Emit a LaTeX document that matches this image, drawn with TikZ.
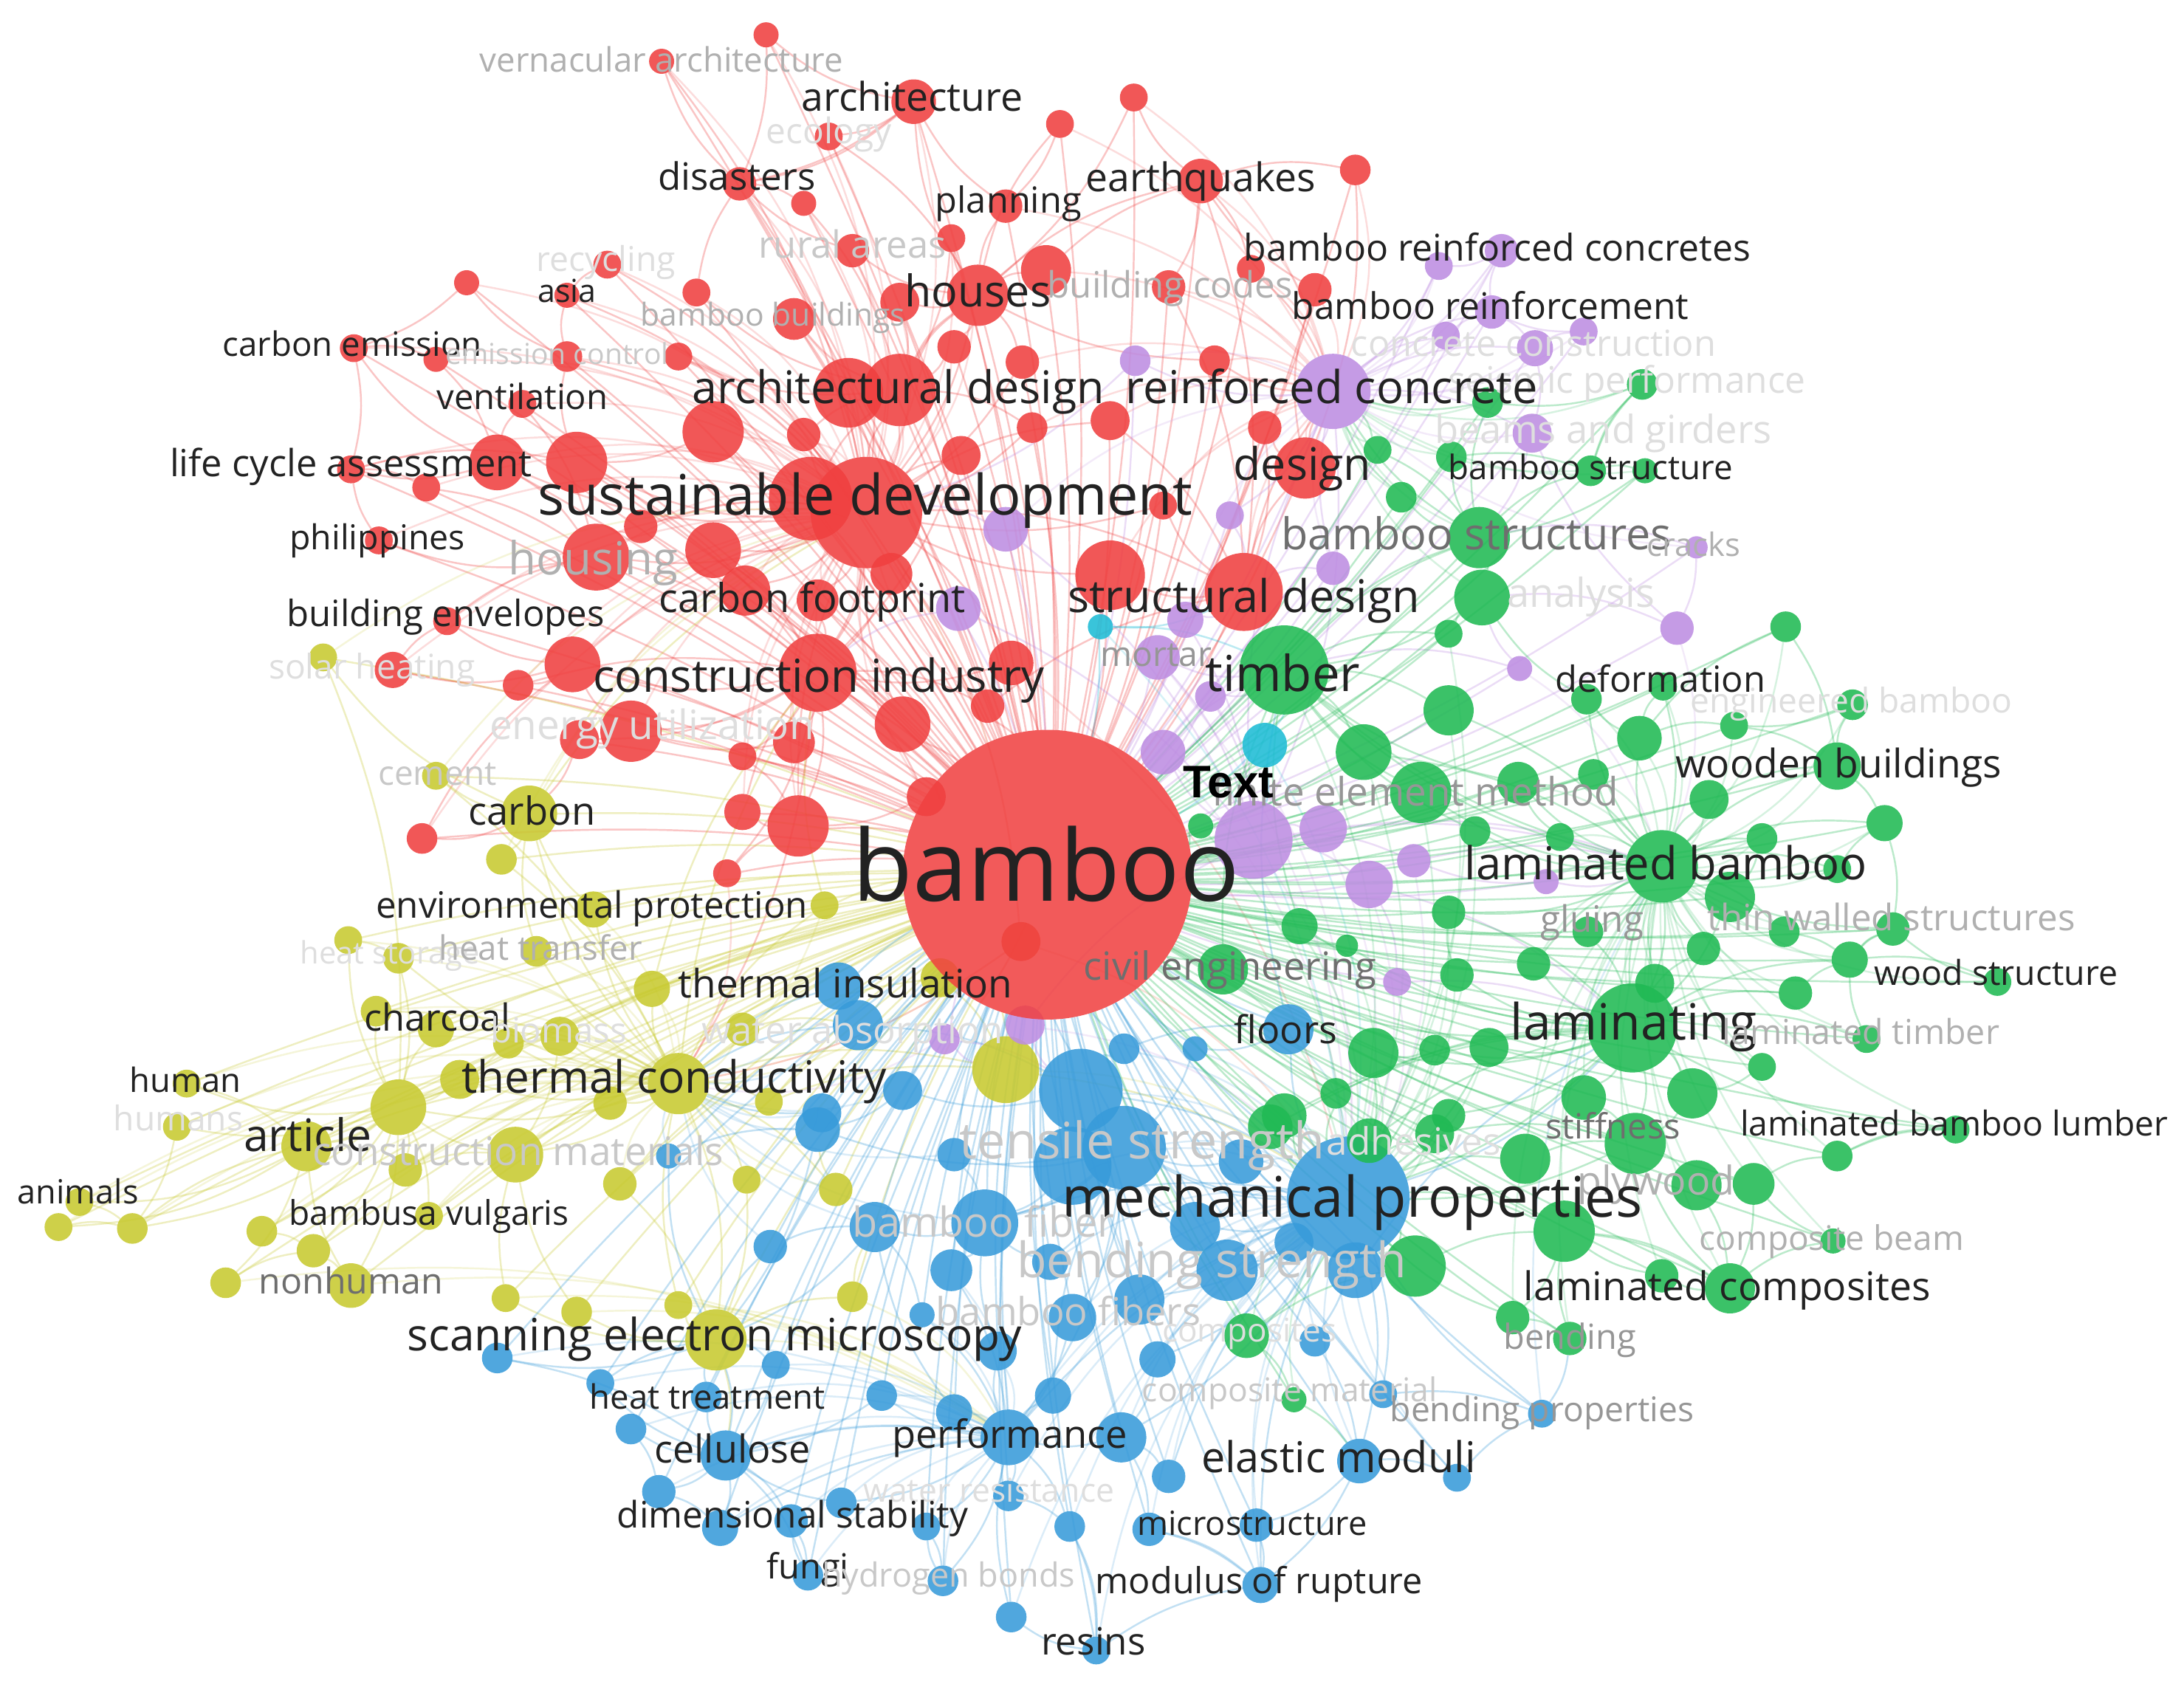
\documentclass[tikz,border=0pt]{standalone}
\usepackage{fontspec}
\setmainfont{Open Sans}
\newfontfamily\arialf{Liberation Sans}
\pgfdeclarelayer{paper}
\pgfdeclarelayer{edgelayer}
\pgfsetlayers{paper,edgelayer,main}
\definecolor{cR}{RGB}{240,64,64}
\definecolor{cO}{RGB}{236,92,48}
\definecolor{cG}{RGB}{32,186,84}
\definecolor{cB}{RGB}{56,155,218}
\definecolor{cY}{RGB}{200,202,48}
\definecolor{cP}{RGB}{190,142,226}
\definecolor{cC}{RGB}{30,188,214}
\definecolor{cK}{RGB}{34,34,34}
\definecolor{gA}{RGB}{110,110,110}
\definecolor{gB}{RGB}{150,150,150}
\definecolor{gC}{RGB}{176,176,176}
\definecolor{gD}{RGB}{200,200,200}
\definecolor{gE}{RGB}{222,222,222}
\makeatletter
\newcommand\vlbl[2]{\setbox0=\hbox{\fontsize{10pt}{12pt}\selectfont #2}\edef\vlblw{\strip@pt\wd0}\pgfmathsetmacro\vlblfs{10*#1/\vlblw}\fontsize{\vlblfs pt}{\vlblfs pt}\selectfont\raisebox{-0.27em}[0pt][0pt]{#2}}
\makeatother
\tikzset{
  ball/.style={circle, inner sep=0pt, outer sep=0pt, fill opacity=0.88},
  edge/.style={line width=1.3pt, draw opacity=0.3},
  lab/.style={inner sep=0pt, outer sep=0pt, anchor=center}
}
\def\nodelist{
arch/656/73/16/cR/hou/r6,
r1/550/25/9/cR/arch/r6,
r2/475/44/9/cR/r6/sd,
r3/595/98/10/cR/arch/hou,
r4/761/89/10/cR/hou/r8,
r5/814/70/10/cR/r9/hou,
r6/531/132/12/cR/arch/sd,
r7/577/146/9/cR/r6/ad,
r8/722/148/12/cR/hou/arch,
r9/862/130/16/cR/hou/sdes,
r10/973/122/11/cR/r9/des,
r11/612/180/12/cR/hou/r6,
r12/683/171/10/cR/hou/ad,
r13/570/229/15/cR/ad/sd,
r14/685/249/12/cR/hou/ad,
r15/734/260/12/cR/hou/sd,
r16/839/206/12/cR/r9/sdes,
r17/898/193/10/cR/r9/rc,
r18/944/208/12/cR/des/r9,
r19/872/259/11/cR/rc/hou,
r20/908/307/12/cR/des/sdes,
r21/797/302/14/cR/sd/sdes,
r22/741/307/11/cR/ad/sd,
r23/690/327/14/cR/sd/ci,
r24/577/312/12/cR/sd/ad,
r25/512/310/22/cR/sd/r38,
r26/436/190/10/cR/r29/sd,
r27/335/203/9/cR/r32/r30,
r28/500/210/10/cR/ad/r6,
r29/407/212/9/cR/r32/sd,
r30/254/250/10/cR/r35/r36,
r31/313/258/9/cR/r30/r35,
r32/407/256/11/cR/r38/sd,
r33/487/256/10/cR/ad/sd,
r34/375/290/10/cR/r35/r40,
r35/357/332/20/cR/sd/r40,
r36/252/337/10/cR/r35/r38,
r37/306/350/10/cR/r36/r40,
r38/414/332/22/cR/sd/ci,
r39/272/388/10/cR/r40/r36,
r40/428/400/24/cR/sd/ci,
r41/460/378/12/cR/r40/sd,
r42/512/395/20/cR/sd/ci,
r43/321/446/10/cR/r46/r40,
r44/282/481/13/cR/r46/r43,
r45/372/492/11/cR/r46/ci,
r46/411/477/20/cR/ci/sd,
r47/453/525/22/cR/ci/r46,
r48/416/531/14/cR/ci/carb,
r49/303/602/11/cR/carb/r46,
r50/522/627/10/cR/ci/r58,
r51/535/424/18/cR/sd/ci,
r52/587/431/15/cR/sd/ci,
r53/648/520/20/cR/ci/sd,
r54/570/533/15/cR/ci/r47,
r55/533/543/10/cR/ci/r58,
r56/709/507/12/cR/ci/sdes,
r57/726/476/16/cR/sd/ci,
r58/573/593/22/cR/ci/sd,
r59/533/583/13/cR/r58/ci,
r60/665/572/14/cR/ci/r58,
r61/733/676/14/cO/sd/tc,
r62/835/363/10/cR/sdes/sd,
r65/640/412/15/cR/sd/ci,
sd2/582/358/30/cR/sd/ad,
sd/622/368/40/cR/ad/ci,
ad1/609/282/25/cR/ad/sd,
ad/646/280/26/cR/sd/hou,
ci/587/483/28/cR/sd/tc,
sdes2/797/413/25/cR/sdes/sd,
sdes/893/425/28/cR/sd/rc,
des/937/336/22/cR/sdes/rc,
hou2/751/194/18/cR/hou/r9,
hou3/646/217/14/cR/hou/ad,
hou/702/212/22/cR/ad/sd,
y1/232/472/10/cY/carb/art,
y2/313/557/10/cY/carb/tc,
carb/380/584/20/cY/tc/sd,
y3/360/617/11/cY/carb/tc,
y4/426/653/13/cY/tc/carb,
y5/250/675/10/cY/art/y6,
y6/286/688/11/cY/tc/art,
y7/385/683/11/cY/tc/carb,
y8/468/710/13/cY/tc/ci,
y9/270/726/11/cY/art/tc,
y10/313/739/13/cY/art/tc,
y11/365/749/11/cY/tc/art,
y12/402/744/14/cY/tc/y17,
tc/487/778/22/cY/art/ci,
y13/438/792/12/cY/tc/y17,
art/286/795/20/cY/tc/y16,
y14/134/778/10/cY/art/y16,
y15/127/809/10/cY/art/y22,
y16/220/823/18/cY/art/tc,
y17/370/829/20/cY/tc/art,
y18/291/840/12/cY/art/y17,
y19/445/850/12/cY/tc/sem,
y20/57/863/10/cY/y16/y22,
y21/42/881/10/cY/y16/y22,
y22/95/882/11/cY/art/y16,
y23/188/884/11/cY/art/y25,
y24/308/873/10/cY/art/tc,
y25/225/898/12/cY/art/y27,
y26/162/921/11/cY/y16/y25,
y27/252/923/16/cY/art/y16,
y28/363/932/10/cY/sem/y17,
y29/414/942/11/cY/sem/y17,
y30/487/937/10/cY/sem/tc,
sem/514/962/22/cY/tc/b6,
y31/536/847/10/cY/tc/sem,
y32/600/854/12/cY/tc/b9,
y33/612/931/11/cY/sem/b11,
y34/722/768/24/cY/tc/mp,
y35/675/702/14/cY/tc/y34,
y36/533/739/12/cY/tc/b53,
y37/552/791/10/cY/tc/y34,
y38/592/650/10/cY/tc/ci,
y39/330/775/14/cY/tc/art,
b1/480/830/9/cB/sem/b9,
b2/357/975/11/cB/sem/b6,
b3/431/993/10/cB/b6/sem,
b4/507/1003/11/cB/b6/sem,
b5/453/1026/11/cB/b6/b7,
b6/521/1045/18/cB/sem/perf,
b7/473/1071/12/cB/b6/b8,
b8/517/1097/13/cB/b6/perf,
b9/587/811/16/cB/ts/sem,
b10/685/829/12/cB/ts/b12,
b11/628/881/18/cB/b12/sem,
b12/707/878/24/cB/ts/mp,
b13/553/895/12/cB/sem/b11,
b14/683/912/15/cB/b12/perf,
b15/754/906/13/cB/ts/b12,
b16/662/944/9/cB/b11/perf,
b17/770/946/17/cB/ts/perf,
b18/818/933/18/cB/mp/ts,
b19/716/970/14/cB/perf/b12,
b20/831/976/13/cB/mp/b25,
b21/557/980/10/cB/sem/b6,
b22/633/1002/11/cB/perf/b6,
b23/756/1002/13/cB/perf/ts,
b24/685/1014/13/cB/perf/b11,
perf/724/1032/20/cB/ts/mp,
b25/805/1032/18/cB/mp/perf,
b26/724/1074/11/cB/perf/b31,
b27/839/1060/12/cB/b25/mp,
b28/604/1079/11/cB/perf/b6,
b29/568/1092/12/cB/b6/b34,
b30/665/1096/10/cB/perf/b35,
b31/768/1096/11/cB/perf/b38,
b32/825/1098/12/cB/b25/b36,
b33/902/1095/12/cB/b39/b36,
b34/580/1131/11/cB/b6/b29,
b35/677/1135/11/cB/perf/b30,
b36/905/1138/13/cB/b32/mp,
b37/726/1161/11/cB/b38/perf,
b38/787/1185/10/cB/b31/b36,
b39/976/1049/16/cB/mp/b36,
b40/1046/1061/10/cB/b39/b43,
b41/944/963/11/cB/mp/b39,
b42/993/1001/10/cB/mp/b43,
b43/1107/1015/10/cB/g67/mp,
b44/973/912/20/cB/mp/lam,
b45/881/912/22/cB/mp/ts,
b46/858/881/18/cB/mp/ts,
ts/807/824/30/cB/mp/b12,
b47/770/837/28/cB/ts/b12,
b48/891/834/16/cB/mp/ts,
mp/968/860/44/cB/lam/ts,
b49/929/892/14/cB/mp/b45,
b50/925/739/18/cB/mp/tim,
b51/858/753/9/cB/b50/ts,
b52/776/783/30/cB/ts/mp,
b53/616/736/18/cB/tc/b52,
b54/602/708/17/cB/tc/b53,
b55/807/753/11/cB/b52/b50,
b56/648/783/14/cB/b52/b9,
b57/590/799/14/cB/b9/tc,
p1/815/259/11/cP/rc/sd,
p2/1033/191/10/cP/p18/rc,
p3/1038/241/10/cP/rc/p19,
rc/957/281/27/cP/p11/des,
p4/722/380/16/cP/sd/p11,
p5/883/370/10/cP/rc/sdes,
p6/688/437/16/cP/ci/p11,
p7/851/445/13/cP/sdes/p11,
p8/831/472/16/cP/tim/p11,
p9/869/500/11/cP/tim/p11,
p10/835/540/16/cP/p11/tim,
p11/900/603/28/cP/rc/lb,
p12/950/595/17/cP/p11/lb,
p13/1015/618/12/cP/p11/lb,
p14/983/635/17/cP/p11/lam,
p15/1003/705/10/cP/p14/lam,
p16/678/746/11/cP/y34/b52,
p17/736/736/14/cP/b52/p11,
p18/1078/180/12/cP/p19/rc,
p19/1071/224/12/cP/rc/p20,
p20/1102/250/13/cP/rc/p22,
p21/1137/238/10/cP/p20/p19,
p22/1100/311/14/cP/rc/bs,
p23/1218/393/8/cP/bs/p24,
p24/1204/451/12/cP/g8/p22,
p25/1091/480/9/cP/tim/g8,
p26/1110/633/9/cP/lb/p13,
p27/957/408/12/cP/sdes/rc,
c1/790/450/9/cC/sdes/tim,
c2/908/535/16/cC/tim/p11,
g1/989/323/10/cG/rc/bs,
g2/1006/357/11/cG/bs/rc,
bs/1062/386/22/cG/tim/rc,
g3/1179/276/11/cG/g6/g4,
g4/1068/289/11/cG/bs/rc,
g5/1042/328/11/cG/bs/g6,
g6/1142/338/11/cG/bs/g3,
g7/1181/338/9/cG/g6/bs,
g8/1064/429/20/cG/bs/tim,
g9/1040/455/10/cG/tim/g8,
tim/922/481/32/cG/lb/bs,
g10/1040/510/18/cG/tim/lb,
g11/979/540/20/cG/tim/lb,
g12/1020/569/22/cG/lb/tim,
g13/862/593/9/cG/tim/p11,
g14/1040/655/12/cG/lb/lam,
g15/933/665/13/cG/lam/tim,
g16/967/679/8/cG/lam/g15,
g17/878/696/18/cG/lam/tim,
g18/986/756/18/cG/lam/mp,
g19/1030/754/11/cG/lam/g18,
g20/959/785/11/cG/mp/lam,
g21/922/801/16/cG/mp/lam,
g22/1040/801/12/cG/lam/mp,
g23/1282/450/11/cG/g29/g30,
g24/1139/502/11/cG/lb/g8,
g25/1194/493/10/cG/g29/lb,
g26/1330/506/11/cG/g30/g28,
g28/1245/521/10/cG/g29/g30,
g29/1177/530/16/cG/lb/g24,
g30/1319/550/17/cG/lb/g34,
g31/1144/556/11/cG/lb/g32,
g32/1090/562/15/cG/lb/tim,
g33/1227/574/14/cG/lb/g30,
g34/1353/591/13/cG/lb/g44,
g35/1265/602/11/cG/lb/g38,
g36/1059/597/11/cG/lb/tim,
g37/1120/601/10/cG/lb/g32,
lb/1193/622/26/cG/lam/tim,
g38/1242/644/18/cG/lb/lam,
g39/1319/624/10/cG/lb/g34,
g41/1140/669/11/cG/lb/lam,
g42/1223/681/12/cG/lam/lb,
g43/1281/669/11/cG/lb/g45,
g44/1359/667/12/cG/g45/lb,
g45/1328/689/13/cG/lam/g44,
g46/1101/692/12/cG/lam/lb,
g47/1046/700/12/cG/lam/g14,
g48/1188/706/14/cG/lam/lb,
g49/1434/705/10/cG/g45/g44,
g50/1289/713/12/cG/lam/g45,
lam/1172/738/32/cG/lb/mp,
g51/1069/752/14/cG/lam/mp,
g52/1340/746/10/cG/lam/g45,
g53/1265/766/10/cG/lam/g54,
g54/1215/785/18/cG/lam/g56,
g55/1137/788/16/cG/lam/g56,
g56/1174/821/22/cG/lam/mp,
g57/1095/832/18/cG/mp/g56,
g58/1123/884/22/cG/mp/g64,
g59/1218/851/18/cG/g56/g64,
g60/1259/850/15/cG/g59/g64,
g61/1319/830/11/cG/g60/g62,
g62/1404/811/10/cG/g61/lam,
g63/1316/891/9/cG/g64/g60,
g64/1242/925/18/cG/g58/g56,
g65/1193/916/12/cG/g64/g58,
g66/1086/946/12/cG/g58/mp,
g67/1127/961/12/cG/g66/g58,
g68/912/809/16/cG/mp/lam,
g69/983/819/16/cG/mp/lam,
g70/1030/814/14/cG/mp/g56,
g71/1016/909/22/cG/mp/g58,
g72/895/959/16/cG/mp/g71,
g73/929/1005/9/cG/g72/b39}
\begin{document}
\begin{tikzpicture}[x=1pt,y=-1pt]
\begin{pgfonlayer}{paper}
\fill[white] (0,0) rectangle (1568,1211);
\end{pgfonlayer}
\useasboundingbox (0,0) rectangle (1568,1211);
% circles
\foreach \n/\x/\y/\r/\c/\ha/\hb in \nodelist {
  \node[ball, fill=\c, minimum size={2*\r pt}] (\n) at (\x,\y) {};
}
\node[ball, fill=cR, fill opacity=0.86, minimum size=208pt] (bam) at (752,628) {};
% connectors
\begin{pgfonlayer}{edgelayer}
\foreach \n/\x/\y/\r/\c/\ha/\hb in \nodelist {
  \ifdim\x pt<720pt
    \ifdim\y pt<620pt \def\hc{sd}\else \ifdim\y pt<900pt \def\hc{tc}\else \def\hc{perf}\fi\fi
  \else
    \ifdim\y pt<450pt \def\hc{rc}\else \ifdim\x pt<1080pt \def\hc{mp}\else \def\hc{lb}\fi\fi
  \fi
  \draw[edge, draw=\c] (\n) to[bend left=6] (bam);
  \draw[edge, draw=\c] (\n) to[bend right=14] (\ha);
  \draw[edge, draw=\c] (\n) to[bend left=12] (\hb);
  \draw[edge, draw=\c, draw opacity=0.18] (\n) to[bend left=18] (\hc);
}
\end{pgfonlayer}
% labels
\foreach \t/\x/\y/\w/\col [count=\i] in {
vernacular architecture/475/45/261/gC,
architecture/655/72/159/cK,
ecology/595/96/90/gE,
disasters/529/129/113/cK,
planning/724/146/105/cK,
earthquakes/862/130/165/cK,
rural areas/612/178/135/gD,
recycling/435/188/100/gE,
bamboo reinforced concretes/1075/180/364/cK,
asia/407/211/42/cK,
houses/702/212/105/cK,
building codes/840/207/176/gC,
bamboo reinforcement/1070/222/285/cK,
bamboo buildings/555/228/190/gC,
carbon emission/253/249/186/cK,
emission control/400/256/160/gD,
concrete construction/1101/249/262/gE,
seismic performance/1168/275/257/gE,
ventilation/375/287/123/cK,
architectural design/645/281/296/cK,
reinforced concrete/956/281/296/cK,
beams and girders/1151/311/242/gE,
life cycle assessment/252/335/260/cK,
design/935/336/99/cK,
bamboo structure/1142/338/204/cK,
sustainable development/621/359/470/cK,
philippines/271/388/126/cK,
bamboo structures/1060/386/280/gA,
cracks/1216/393/67/gC,
housing/426/404/122/gC,
carbon footprint/583/432/220/cK,
structural design/893/431/253/cK,
analysis/1135/428/106/gE,
building envelopes/320/443/228/cK,
mortar/830/472/80/gB,
solar heating/267/481/148/gE,
timber/921/487/111/cK,
construction industry/588/488/324/cK,
deformation/1192/490/151/cK,
engineered bamboo/1329/505/231/gE,
energy utilization/468/523/233/gE,
wooden buildings/1320/551/234/cK,
cement/314/557/85/gD,
finite element method/1016/571/292/gB,
carbon/382/585/91/cK,
laminated bamboo/1196/623/289/cK,
bamboo/751/628/278/cK,
environmental protection/425/652/310/cK,
gluing/1143/662/74/gB,
thin walled structures/1358/661/264/gC,
heat storage/280/686/129/gE,
heat transfer/388/683/146/gC,
civil engineering/883/696/210/gA,
wood structure/1433/701/175/cK,
thermal insulation/607/709/240/cK,
charcoal/314/733/105/cK,
biomass/401/742/98/gE,
water absorption/612/742/216/gE,
floors/923/742/74/cK,
laminating/1173/737/177/cK,
laminated timber/1336/743/199/gC,
thermal conductivity/484/776/305/cK,
human/133/778/80/cK,
humans/128/805/93/gE,
laminated bamboo lumber/1403/809/307/cK,
stiffness/1158/811/97/gA,
article/221/818/92/cK,
tensile strength/820/822/262/gD,
adhesives/1015/822/125/gE,
construction materials/372/829/295/gD,
plywood/1189/850/113/gC,
animals/56/858/87/cK,
mechanical properties/971/863/417/cK,
bambusa vulgaris/308/873/201/cK,
bamboo fiber/706/880/188/gD,
composite beam/1315/891/190/gC,
bending strength/870/908/280/gD,
nonhuman/252/922/132/gA,
laminated composites/1240/926/292/cK,
bamboo fibers/767/944/190/gD,
composites/897/957/125/gE,
scanning electron microscopy/513/961/441/cK,
bending/1127/962/95/gB,
composite material/926/1000/212/gD,
heat treatment/508/1005/169/cK,
bending properties/1107/1014/218/gB,
performance/725/1032/169/cK,
cellulose/526/1043/112/cK,
elastic moduli/961/1049/197/cK,
water resistance/710/1072/180/gE,
dimensional stability/569/1090/252/cK,
microstructure/899/1096/165/cK,
fungi/580/1127/59/cK,
hydrogen bonds/681/1133/182/gD,
modulus of rupture/904/1137/235/cK,
resins/785/1181/75/cK} {
  \node[lab, text=\col] (L\i) at (\x,\y) {\vlbl{\w}{\t}};
}
\node[lab, text=black] (Ltext) at (882,564) {\vlbl{65}{\arialf\bfseries Text}};
\end{tikzpicture}
\end{document}
